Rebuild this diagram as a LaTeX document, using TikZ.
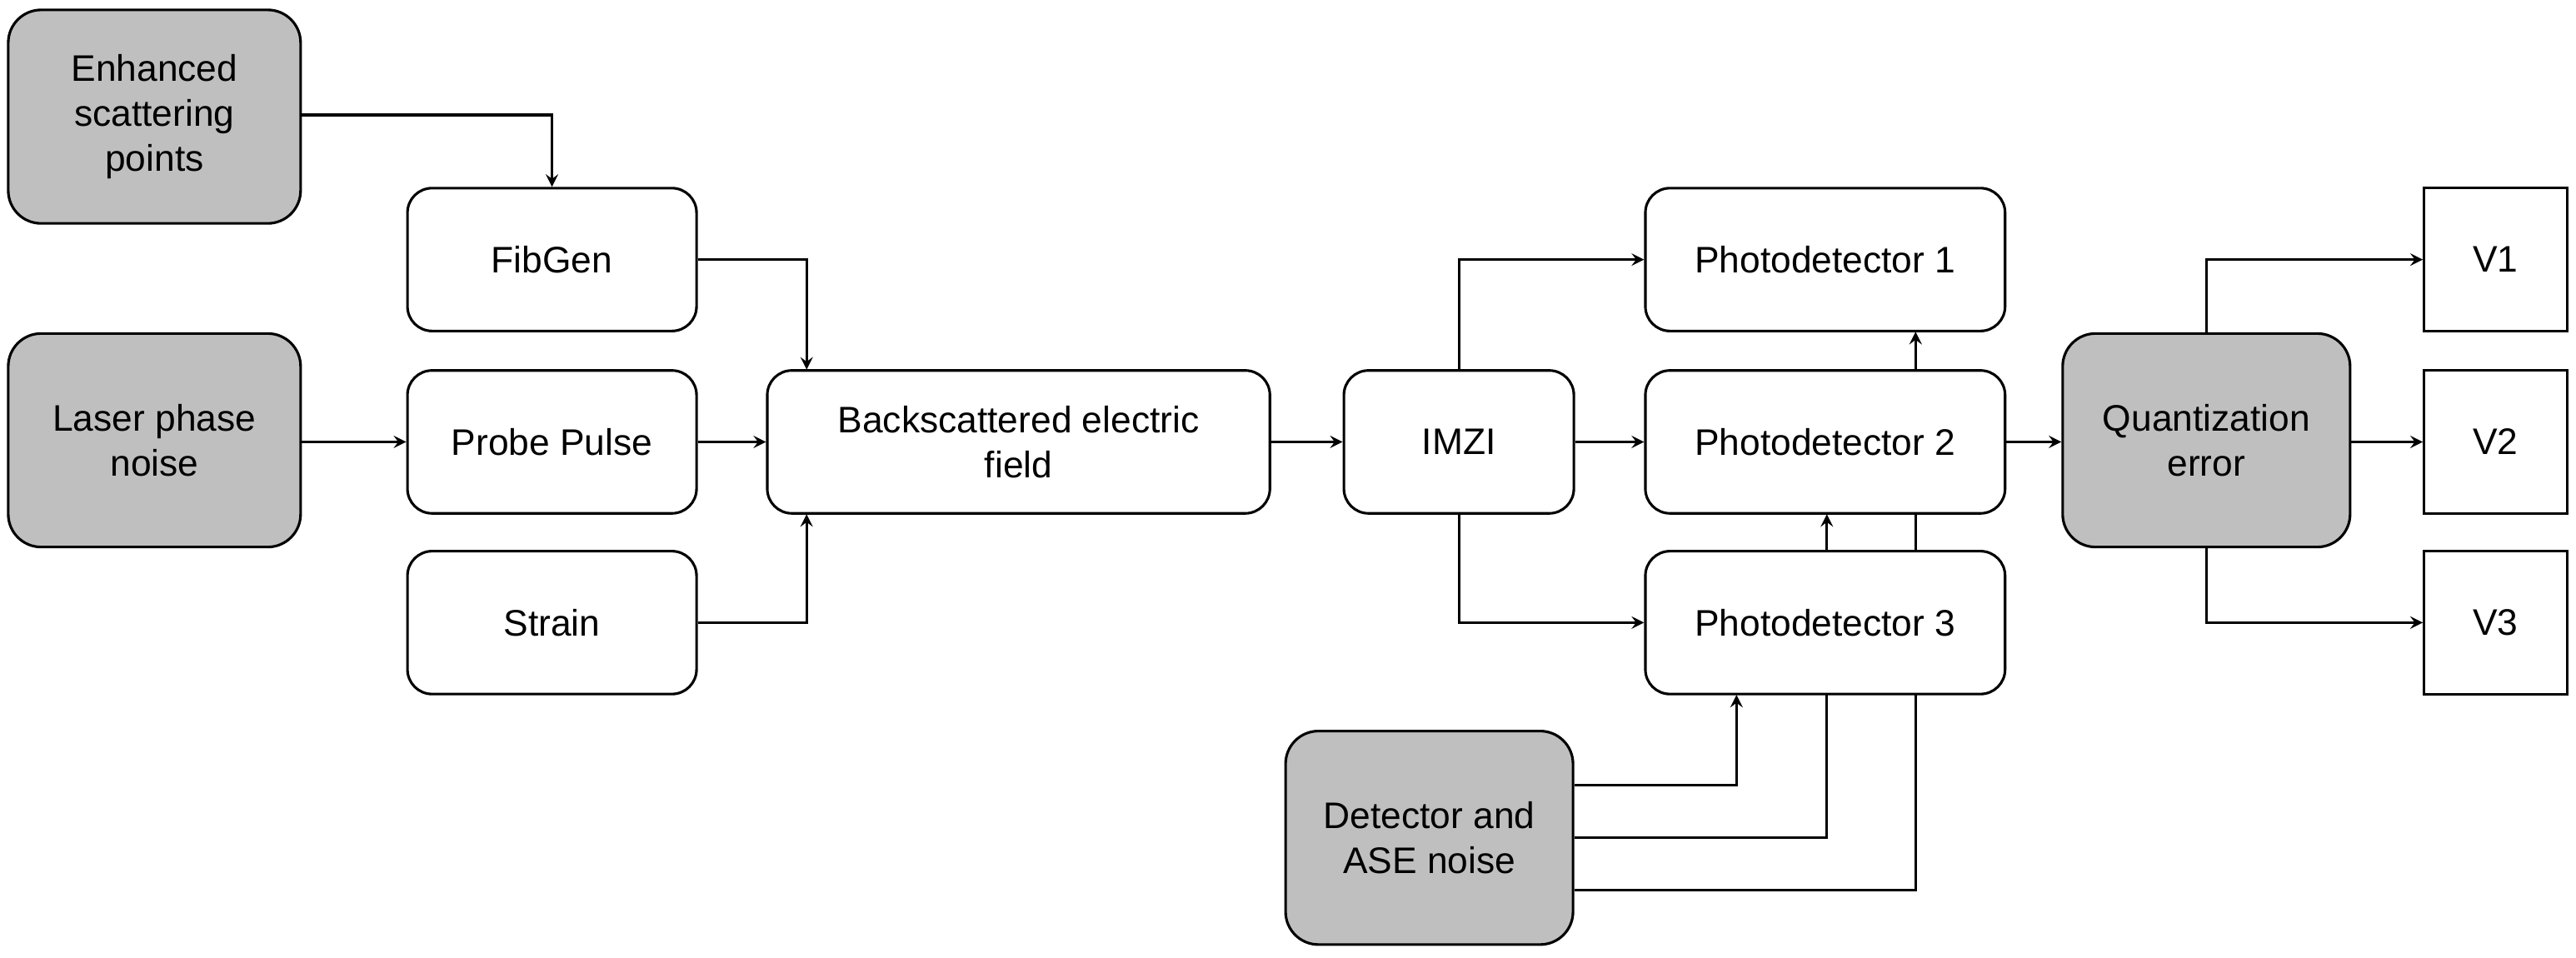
\documentclass[tikz,border=0pt]{standalone}
\usepackage{fontspec}
\setmainfont{Liberation Sans}
\usetikzlibrary{arrows, positioning, backgrounds}
\tikzset{
  block/.style={rectangle, rounded corners=0.3cm, minimum width=3.52cm, minimum height=1.74cm, text centered, align=center, draw=black, fill=white, line width=0.9pt},
  noise/.style={rectangle, rounded corners=0.4cm, minimum width=3.56cm, minimum height=2.6cm, text centered, align=center, draw=black, fill=black!25, line width=0.9pt},
  voltage/.style={rectangle, minimum width=1.74cm, minimum height=1.74cm, text centered, draw=black, fill=white, line width=0.9pt},
  arrow/.style={line width=0.9pt,->,>=stealth}
}

\begin{document}
\begin{tikzpicture}[x=0.02cm, y=-0.02cm, font=\fontsize{12.8}{15.5}\selectfont]
    \useasboundingbox (0,0) rectangle (1568,583);

    \node (scatter) [noise] at (94,71) {Enhanced\\scattering\\points};
    \node (laser) [noise] at (94,268) {Laser phase\\noise};
    \node (fibgen) [block] at (336,158) {FibGen};
    \node (probe) [block] at (336,269) {Probe Pulse};
    \node (strain) [block] at (336,379) {Strain};
    \node (field) [block, minimum width=6.12cm] at (620,269) {Backscattered electric\\field};
    \node (imzi) [block, minimum width=2.8cm] at (888,269) {IMZI};
    \node (pd1) [block, minimum width=4.38cm] at (1111,158) {Photodetector 1};
    \node (pd2) [block, minimum width=4.38cm] at (1111,269) {Photodetector 2};
    \node (pd3) [block, minimum width=4.38cm] at (1111,379) {Photodetector 3};
    \node (detector) [noise, minimum width=3.5cm] at (870,510) {Detector and\\ASE noise};
    \node (quant) [noise, minimum width=3.5cm] at (1343,268) {Quantization\\error};
    \node (v1) [voltage] at (1519,158) {V1};
    \node (v2) [voltage] at (1519,269) {V2};
    \node (v3) [voltage] at (1519,379) {V3};

    \draw [arrow] (scatter.east |- 0,70) -| (fibgen.north);
    \draw [arrow] (fibgen.east) -| (491,225);
    \draw [arrow] (laser.east |- probe) -- (probe.west);
    \draw [arrow] (probe) -- (field);
    \draw [arrow] (strain.east) -| (491,313);
    \draw [arrow] (field) -- (imzi);
    \draw [arrow] (imzi) -- (pd2);
    \draw [arrow] (imzi.north) |- (pd1.west);
    \draw [arrow] (imzi.south) |- (pd3.west);
    \draw [arrow] (pd2.east) -- (quant.west |- pd2);
    \draw [arrow] (quant.north) |- (v1.west);
    \draw [arrow] (quant.east |- v2) -- (v2.west);
    \draw [arrow] (quant.south) |- (v3.west);

    \begin{pgfonlayer}{background}
    \draw [arrow] (detector.east |- 0,478) -| (1057,423);
    \draw [arrow] (detector.east |- 0,510) -| (1112,313);
    \draw [arrow] (detector.east |- 0,542) -| (1166,202);
    \end{pgfonlayer}
  
  \end{tikzpicture}
\end{document}
